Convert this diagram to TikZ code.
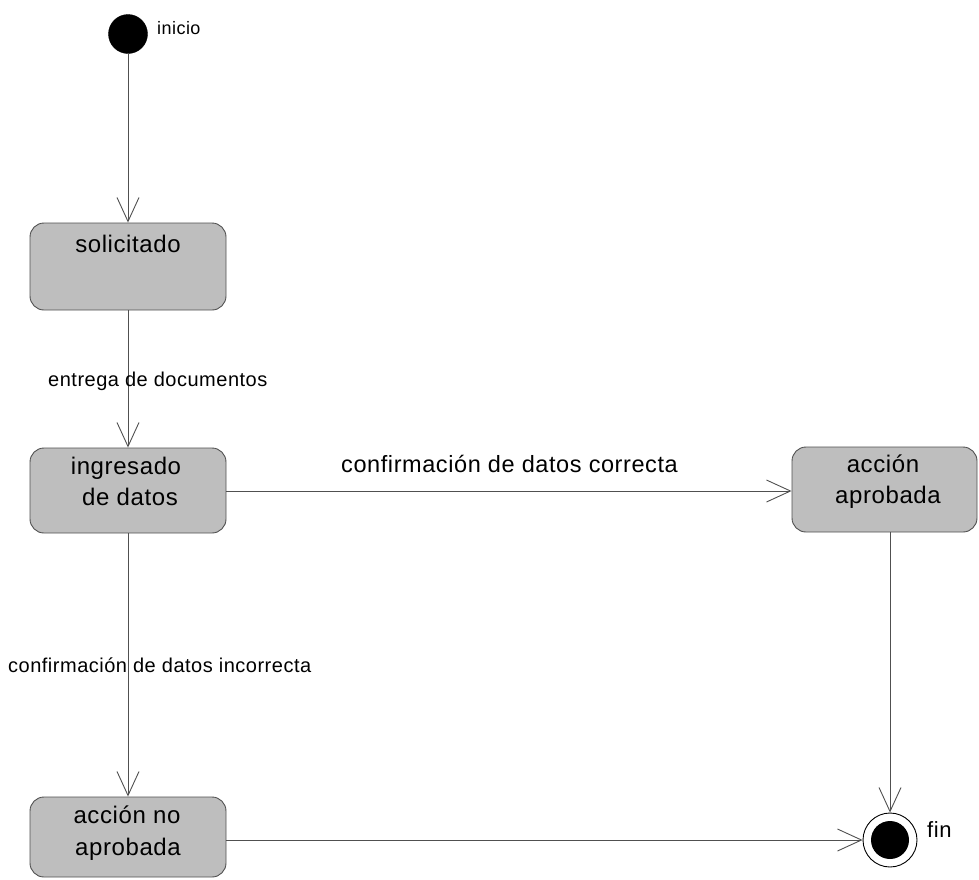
\documentclass[tikz,border=0pt]{standalone}
\usepackage{fontspec}
\setmainfont[LetterSpace=2.5]{Liberation Sans}
\usetikzlibrary{arrows.meta}

\definecolor{stategray}{HTML}{BEBEBE}
\definecolor{edgegray}{HTML}{505050}

\tikzset{
  statebox/.style={draw=edgegray, fill=stategray, line width=0.9pt,
    rounded corners=14pt, inner sep=0pt},
  statetext/.style={inner sep=0pt, anchor=base, font=\fontsize{24}{28}\selectfont},
  edgelabel/.style={inner sep=0pt, anchor=base west, font=\fontsize{20}{24}\selectfont},
  biglabel/.style={inner sep=0pt, anchor=base west, font=\fontsize{23.5}{28}\selectfont},
  trans/.style={draw=edgegray, line width=0.9pt,
    -{Straight Barb[length=24pt,width=22pt,line width=0.9pt]}},
}

\begin{document}
\begin{tikzpicture}[x=1pt, y=-1pt]
  \useasboundingbox (0,0) rectangle (979,879);

  % initial and final pseudo-states
  \node (start) [circle, fill=black, draw=black, minimum size=39pt, inner sep=0pt] at (128,34) {};
  \node (startlbl) [edgelabel, font=\fontsize{18}{22}\selectfont] at (157,34) {inicio};

  \node (fin) [circle, draw=black, line width=0.9pt, minimum size=54pt, inner sep=0pt] at (890,840) {};
  \node (fincore) [circle, fill=black, minimum size=38pt, inner sep=0pt] at (fin.center) {};
  \node (finlbl) [biglabel, font=\fontsize{22}{26}\selectfont] at (927,837) {fin};

  % states
  \node (sol) [statebox, minimum width=196pt, minimum height=87pt] at (128,266.5) {};
  \node (soltxt) [statetext] at (128,252) {solicitado};

  \node (ing) [statebox, minimum width=196pt, minimum height=85pt] at (128,490.5) {};
  \node (ingtxt1) [statetext] at (126,474) {ingresado};
  \node (ingtxt2) [statetext] at (130,505) {de datos};

  \node (apr) [statebox, minimum width=185pt, minimum height=85pt] at (884.5,489.5) {};
  \node (aprtxt1) [statetext] at (883,472) {acción};
  \node (aprtxt2) [statetext] at (888,503) {aprobada};

  \node (noapr) [statebox, minimum width=196pt, minimum height=80pt] at (128,837) {};
  \node (noaprtxt1) [statetext] at (127,823) {acción no};
  \node (noaprtxt2) [statetext] at (128,855) {aprobada};

  % transitions
  \draw[trans] (start.south) -- (sol.north);
  \draw[trans] (sol.south) -- (ing.north);
  \draw[trans] (ing.east |- 0,491) -- (apr.west |- 0,491);
  \draw[trans] (ing.south) -- (noapr.north);
  \draw[trans] (apr.south -| fin.north) -- (fin.north);
  \draw[trans] (noapr.east |- fin.west) -- (fin.west);

  % transition labels
  \node (lblentrega) [edgelabel] at (48,386) {entrega de documentos};
  \node (lblok) [biglabel] at (341,472) {confirmación de datos correcta};
  \node (lblbad) [edgelabel] at (8,672) {confirmación de datos incorrecta};
\end{tikzpicture}
\end{document}
